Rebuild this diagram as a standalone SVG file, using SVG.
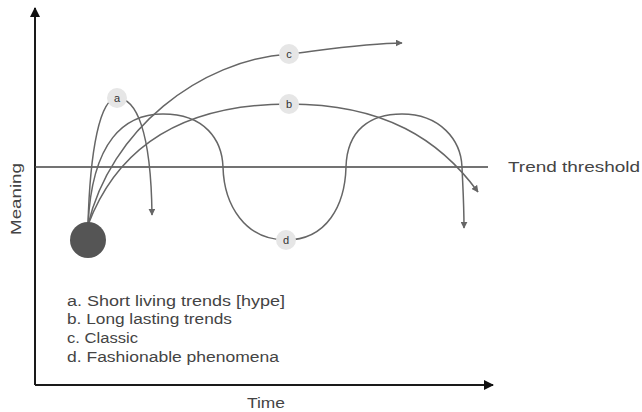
<svg xmlns="http://www.w3.org/2000/svg" width="642" height="412" viewBox="0 0 642 412">
<style>
.axis{stroke:#1a1a1a;stroke-width:2;fill:none}
.thr{stroke:#444;stroke-width:1.6;fill:none}
.curve{stroke:#666;stroke-width:1.5;fill:none;marker-end:url(#ah)}
.lbl{fill:#e6e6e6}
.lt{font-family:"Liberation Sans",Arial,sans-serif;font-size:11px;fill:#333;text-anchor:middle}
.txt{font-family:"Liberation Sans",Arial,sans-serif;fill:#444}
</style>
<defs>
<marker id="ah" viewBox="0 0 10 10" refX="9" refY="5" markerWidth="7" markerHeight="7" markerUnits="userSpaceOnUse" orient="auto">
<path d="M0,0 L10,5 L0,10 z" fill="#666"/>
</marker>
<marker id="axh" viewBox="0 0 10 10" refX="9" refY="5" markerWidth="10" markerHeight="10" markerUnits="userSpaceOnUse" orient="auto">
<path d="M0,0 L10,5 L0,10 z" fill="#111"/>
</marker>
</defs>
<g id="axes">
<line class="axis" x1="35" y1="385" x2="35" y2="8" marker-end="url(#axh)"/>
<line class="axis" x1="35" y1="385" x2="493" y2="385" marker-end="url(#axh)"/>
<text class="txt" x="247" y="408" font-size="14" textLength="38" lengthAdjust="spacingAndGlyphs">Time</text>
<text class="txt" transform="translate(21,235) rotate(-90)" font-size="14" textLength="72" lengthAdjust="spacingAndGlyphs">Meaning</text>
</g>
<g id="threshold">
<line class="thr" x1="35" y1="167" x2="488" y2="167"/>
<text class="txt" x="508" y="172" font-size="15" textLength="132" lengthAdjust="spacingAndGlyphs">Trend threshold</text>
</g>
<g id="connectors">
<path id="curve-a" class="curve" d="M88,225 C90,150 100,98 117,98 C136,98 151,130 152,215"/>
<path id="curve-c" class="curve" d="M88,225 C110,130 200,60 289,54 C330,49 370,43 402,43"/>
<path id="curve-b" class="curve" d="M88,225 C120,140 190,104 289,104 C385,104 440,140 478,192"/>
<path id="curve-d" class="curve" d="M88,225 C92,140 125,114 163,114 C205,114 222,140 223,167 C224,205 245,240 286,240 C327,240 345,205 346,167 C347,130 370,114 402,114 C440,114 461,140 462,167 C463,190 464,205 464,228"/>
</g>
<g id="origin">
<circle cx="88" cy="240" r="18" fill="#555"/>
</g>
<g id="node-a">
<circle class="lbl" cx="117" cy="98" r="10"/>
<text class="lt" x="117" y="102">a</text>
</g>
<g id="node-b">
<circle class="lbl" cx="289" cy="104" r="10"/>
<text class="lt" x="289" y="108">b</text>
</g>
<g id="node-c">
<circle class="lbl" cx="289" cy="54" r="10"/>
<text class="lt" x="289" y="58">c</text>
</g>
<g id="node-d">
<circle class="lbl" cx="286" cy="240" r="10"/>
<text class="lt" x="286" y="244">d</text>
</g>
<g id="legend" class="txt" font-size="14">
<text x="67" y="306" textLength="218" lengthAdjust="spacingAndGlyphs">a. Short living trends [hype]</text>
<text x="67" y="324" textLength="165" lengthAdjust="spacingAndGlyphs">b. Long lasting trends</text>
<text x="67" y="343" textLength="71" lengthAdjust="spacingAndGlyphs">c. Classic</text>
<text x="67" y="362" textLength="212" lengthAdjust="spacingAndGlyphs">d. Fashionable phenomena</text>
</g>
</svg>
